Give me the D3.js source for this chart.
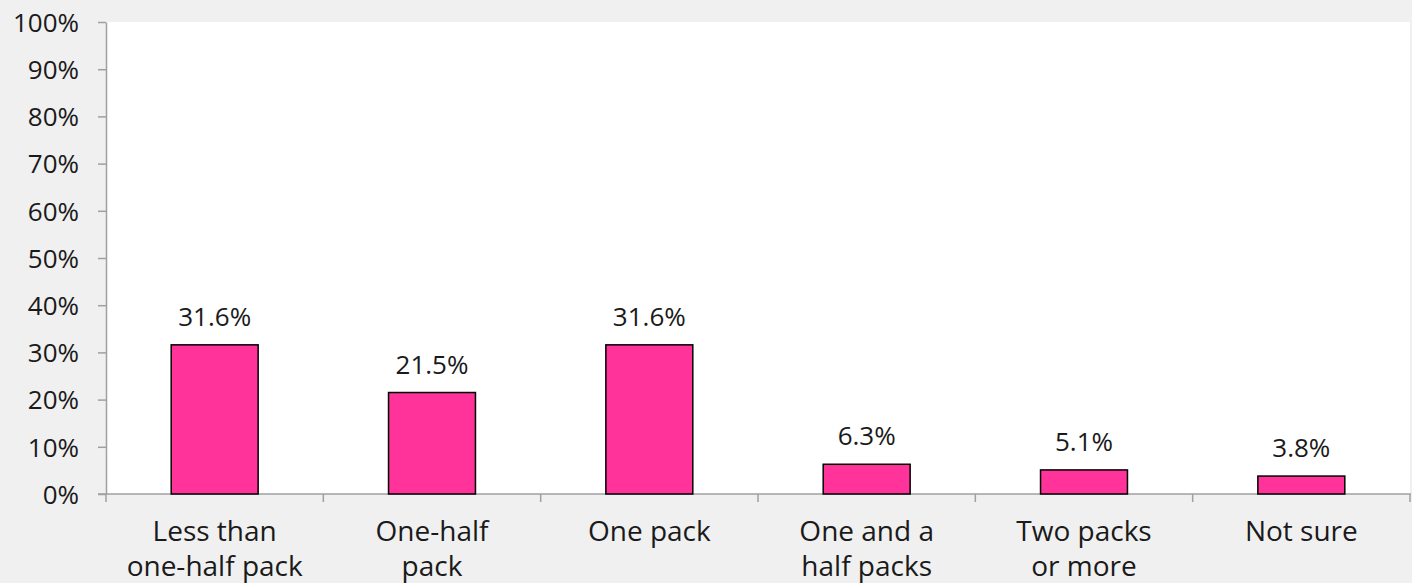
<!DOCTYPE html>
<html>
<head>
<meta charset="utf-8">
<script src="https://cdn.jsdelivr.net/npm/d3@7"></script>
<style>
html,body{margin:0;padding:0;background:#f0f0f0;}
svg{display:block;}
text{font-family:"Open Sans","Lato",sans-serif;fill:#1a1a1a;}
</style>
</head>
<body>
<svg id="chart" width="1412" height="583"></svg>
<script>
const categories = [["Less than","one-half pack"],["One-half","pack"],["One pack"],["One and a","half packs"],["Two packs","or more"],["Not sure"]];
const values = [31.6, 21.5, 31.6, 6.3, 5.1, 3.8];
const yTicks = [0,10,20,30,40,50,60,70,80,90,100];

const W = 1412, H = 583;
const m = {left:106, right:2, top:22, bottom:89};
const svg = d3.select("#chart");
svg.append("rect").attr("width",W).attr("height",H).attr("fill","#f0f0f0");

const xb = d3.scaleBand().domain(d3.range(categories.length)).range([m.left, W-m.right]);
const y = d3.scaleLinear().domain([0,100]).range([H-m.bottom, m.top]);

svg.append("rect").attr("x",m.left).attr("y",m.top).attr("width",W-m.right-m.left).attr("height",H-m.bottom-m.top).attr("fill","#ffffff");

// y axis
const yAxis = d3.axisLeft(y).tickValues(yTicks).tickFormat(d=>d+"%").tickSize(8).tickSizeOuter(0);
const gy = svg.append("g").attr("transform",`translate(${m.left},0)`).call(yAxis);
gy.attr("font-family",null).attr("font-size",null);
gy.select(".domain").attr("stroke","#a0a0a0").attr("stroke-width",1.5);
gy.selectAll(".tick line").attr("stroke","#a0a0a0").attr("stroke-width",1.5);
gy.selectAll(".tick text").attr("font-size",26).attr("x",-27).attr("dy","0.36em").attr("fill","#1a1a1a");

// x axis
const gx = svg.append("g").attr("transform",`translate(0,${H-m.bottom})`);
gx.append("line").attr("x1",m.left-8).attr("x2",W-m.right+1).attr("stroke","#a0a0a0").attr("stroke-width",1.5);
const bounds = d3.range(categories.length+1).map(i => i<categories.length ? xb(i) : xb(categories.length-1)+xb.bandwidth());
gx.selectAll(".xt").data(bounds).enter().append("line")
  .attr("x1",d=>d).attr("x2",d=>d).attr("y1",0).attr("y2",8)
  .attr("stroke","#a0a0a0").attr("stroke-width",1.5);

const lbl = gx.selectAll(".cl").data(categories).enter().append("text")
  .attr("text-anchor","middle").attr("font-size",28)
  .attr("transform",(d,i)=>`translate(${xb(i)+xb.bandwidth()/2},0)`);
lbl.each(function(d){
  const t = d3.select(this);
  d.forEach((s,k)=>t.append("tspan").attr("x",0).attr("y",47+k*35).text(s));
});

// bars
svg.selectAll(".bar").data(values).enter().append("rect")
  .attr("x",(d,i)=>xb(i)+xb.bandwidth()*0.3)
  .attr("width",xb.bandwidth()*0.4)
  .attr("y",d=>y(d))
  .attr("height",d=>y(0)-y(d))
  .attr("fill","#ff3399").attr("stroke","#000").attr("stroke-width",1.5);

svg.selectAll(".vl").data(values).enter().append("text")
  .attr("x",(d,i)=>xb(i)+xb.bandwidth()/2)
  .attr("y",d=>y(d)-19)
  .attr("text-anchor","middle").attr("font-size",26)
  .text(d=>d.toFixed(1)+"%");
</script>
</body>
</html>
